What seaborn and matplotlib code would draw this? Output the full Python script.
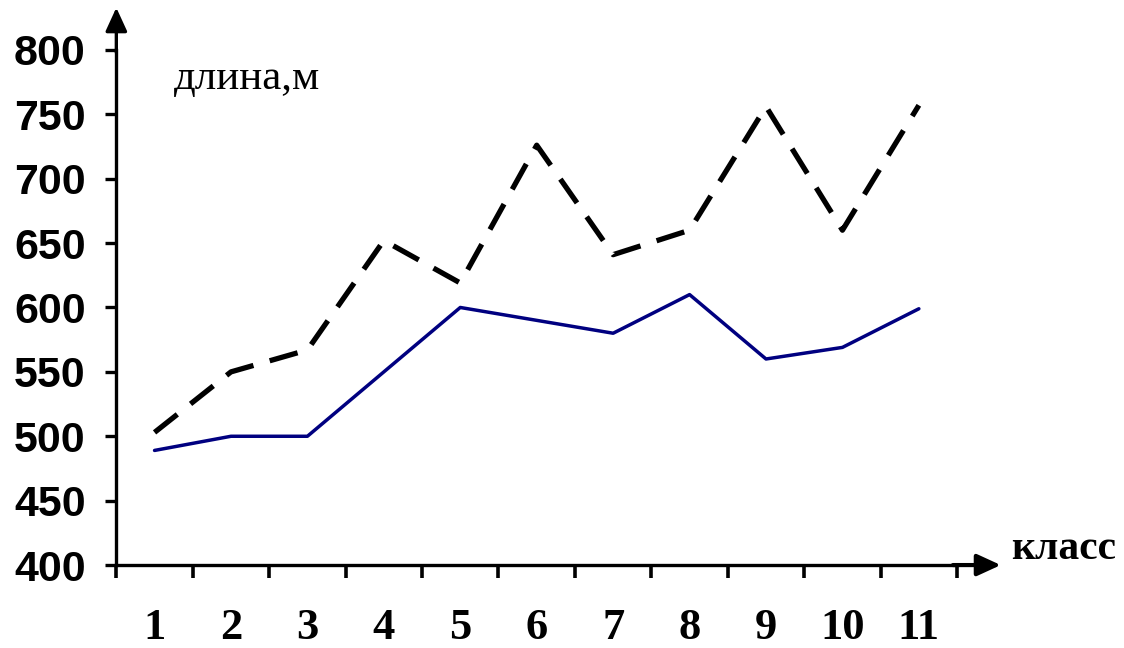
import matplotlib
matplotlib.use("Agg")
import matplotlib.pyplot as plt
import seaborn as sns
import pandas as pd
import numpy as np

classes = [1, 2, 3, 4, 5, 6, 7, 8, 9, 10, 11]
solid_values = [489, 500, 500, 550, 600, 590, 580, 610, 560, 569, 599]
dashed_values = [503, 550, 567, 652, 619, 726, 641, 660, 756, 660, 757]
y_ticks = [400, 450, 500, 550, 600, 650, 700, 750, 800]
x_tick_labels = ["1", "2", "3", "4", "5", "6", "7", "8", "9", "10", "11"]

sns.set_theme(style="white")
plt.rcParams['font.family'] = ['Liberation Sans', 'DejaVu Sans']
plt.rcParams['text.color'] = 'black'
plt.rcParams['xtick.color'] = 'black'
plt.rcParams['ytick.color'] = 'black'

fig = plt.figure(figsize=(11.24, 6.48), dpi=100)
ax = fig.add_axes([0.1035, 0.128, 0.748, 0.795])

df_solid = pd.DataFrame({"class": classes, "value": solid_values})
df_dashed = pd.DataFrame({"class": classes, "value": dashed_values})

sns.lineplot(data=df_dashed, x="class", y="value", ax=ax, color="black",
             linewidth=3.8, linestyle=(0, (5.5, 3.2)), legend=False)
sns.lineplot(data=df_solid, x="class", y="value", ax=ax, color="#000080",
             linewidth=2.5, legend=False)

ax.set_xlim(0.5, 11.5)
ax.set_ylim(400, 800)
ax.set_xlabel("")
ax.set_ylabel("")

for s in ["top", "right"]:
    ax.spines[s].set_visible(False)
for s in ["left", "bottom"]:
    ax.spines[s].set_color("black")
    ax.spines[s].set_linewidth(2.4)

ax.set_yticks(y_ticks)
ax.set_yticklabels([str(v) for v in y_ticks], fontsize=31, fontweight="bold",
                   family=['Liberation Sans', 'DejaVu Sans'], color="black")
ax.tick_params(axis="y", which="major", direction="out", length=8, width=2.4,
               color="black", pad=14, left=True, labelcolor="black")

ax.set_xticks(np.arange(0.5, 12.0, 1.0))
ax.set_xticklabels([])
ax.tick_params(axis="x", which="major", direction="out", length=9, width=2.6,
               color="black", bottom=True)
ax.set_xticks(classes, minor=True)
ax.set_xticklabels(x_tick_labels, minor=True, fontsize=32, fontweight="bold",
                   family=['Liberation Serif', 'DejaVu Serif'], color="black")
ax.tick_params(axis="x", which="minor", length=0, pad=31, bottom=True,
               labelcolor="black")

ax.grid(False)

# axis arrows
ax.annotate("", xy=(0, 1.082), xytext=(0, 0.995), xycoords="axes fraction",
            textcoords="axes fraction", annotation_clip=False,
            arrowprops=dict(arrowstyle="-|>,head_length=1.2,head_width=0.55",
                            color="black", lw=2.4, shrinkA=0, shrinkB=0))
ax.annotate("", xy=(1.052, 0), xytext=(0.995, 0), xycoords="axes fraction",
            textcoords="axes fraction", annotation_clip=False,
            arrowprops=dict(arrowstyle="-|>,head_length=1.2,head_width=0.55",
                            color="black", lw=3.0, shrinkA=0, shrinkB=0))

fig.text(0.900, 0.137, "класс", fontsize=30, fontweight="bold",
         family=['Liberation Serif', 'DejaVu Serif'], ha="left", va="baseline",
         color="black")
fig.text(0.155, 0.862, "длина,м", fontsize=31,
         family=['Liberation Serif', 'DejaVu Serif'], ha="left", va="baseline",
         color="black")

fig.savefig("out.png", dpi=100)
